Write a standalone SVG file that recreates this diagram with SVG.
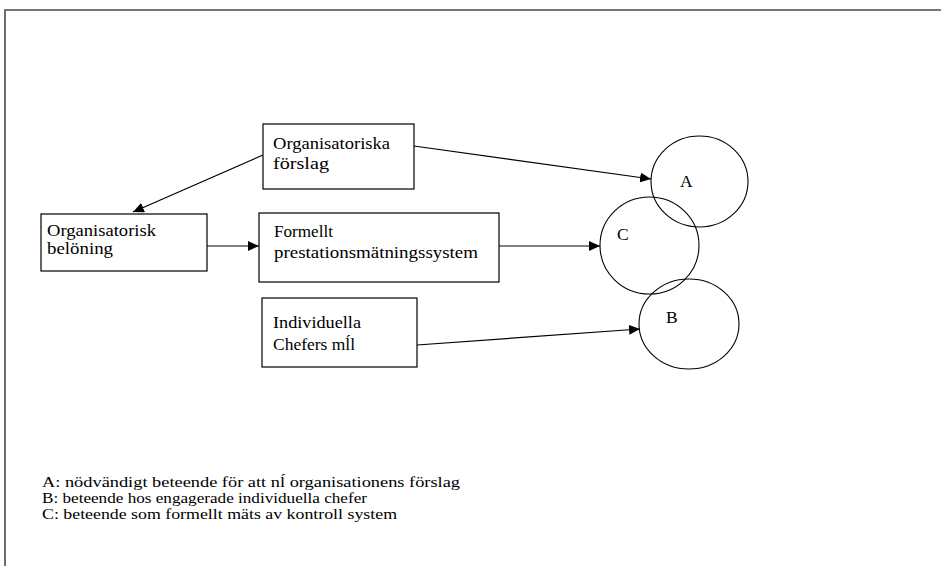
<svg xmlns="http://www.w3.org/2000/svg" width="941" height="566" viewBox="0 0 941 566">
  <defs>
    <marker id="arrow" viewBox="0 0 11 10" refX="11" refY="5" markerWidth="11" markerHeight="10" markerUnits="userSpaceOnUse" orient="auto">
      <path d="M0,0 L11,5 L0,10 z" fill="#000"/>
    </marker>
    <style>
      .box { fill: #fff; stroke: #000; stroke-width: 1.2; }
      .ring { fill: none; stroke: #000; stroke-width: 1.1; }
      .lbl { font-family: 'Liberation Serif', 'Times New Roman', serif; font-size: 17.5px; fill: #000; }
      .leg { font-size: 15px; }
      .link { stroke: #000; stroke-width: 1.2; fill: none; marker-end: url(#arrow); }
      .frame { fill: none; stroke: #4a4a4a; stroke-width: 1.6; }
    </style>
  </defs>

  <rect width="941" height="566" fill="#fff"/>
  <polyline class="frame" points="5,566 5,10 941,10"/>

  <g id="connectors">
    <line class="link" x1="263" y1="155" x2="133" y2="212"/>
    <line class="link" x1="414" y1="146" x2="651" y2="179"/>
    <line class="link" x1="207" y1="246" x2="259" y2="246"/>
    <line class="link" x1="499" y1="246" x2="600" y2="246"/>
    <line class="link" x1="417" y1="345" x2="640" y2="329"/>
  </g>

  <g id="node-forslag">
    <rect class="box" x="263" y="124" width="151" height="65"/>
    <text class="lbl" x="273" y="149" textLength="117" lengthAdjust="spacingAndGlyphs">Organisatoriska</text>
    <text class="lbl" x="273" y="169" textLength="56" lengthAdjust="spacingAndGlyphs">förslag</text>
  </g>

  <g id="node-beloning">
    <rect class="box" x="41" y="214" width="166" height="57"/>
    <text class="lbl" x="47" y="236" textLength="109" lengthAdjust="spacingAndGlyphs">Organisatorisk</text>
    <text class="lbl" x="47" y="254" textLength="66" lengthAdjust="spacingAndGlyphs">belöning</text>
  </g>

  <g id="node-system">
    <rect class="box" x="259" y="213" width="240" height="69"/>
    <text class="lbl" x="274" y="237" textLength="59" lengthAdjust="spacingAndGlyphs">Formellt</text>
    <text class="lbl" x="274" y="258" textLength="204" lengthAdjust="spacingAndGlyphs">prestationsmätningssystem</text>
  </g>

  <g id="node-chefer">
    <rect class="box" x="262" y="298" width="155" height="69"/>
    <text class="lbl" x="273" y="328" textLength="88" lengthAdjust="spacingAndGlyphs">Individuella</text>
    <text class="lbl" x="273" y="350" textLength="82" lengthAdjust="spacingAndGlyphs">Chefers mĺl</text>
  </g>

  <g id="node-A">
    <ellipse class="ring" cx="699.5" cy="181.5" rx="48.5" ry="45.5"/>
    <text class="lbl" x="680" y="187">A</text>
  </g>

  <g id="node-C">
    <ellipse class="ring" cx="649.5" cy="245.5" rx="49.5" ry="48.5"/>
    <text class="lbl" x="617" y="240">C</text>
  </g>

  <g id="node-B">
    <ellipse class="ring" cx="689" cy="324" rx="50" ry="45"/>
    <text class="lbl" x="666" y="323">B</text>
  </g>

  <g id="legend">
    <text class="lbl leg" x="42" y="487" textLength="418" lengthAdjust="spacingAndGlyphs">A: nödvändigt beteende för att nĺ organisationens förslag</text>
    <text class="lbl leg" x="42" y="503" textLength="325" lengthAdjust="spacingAndGlyphs">B: beteende hos engagerade individuella chefer</text>
    <text class="lbl leg" x="42" y="519" textLength="355" lengthAdjust="spacingAndGlyphs">C: beteende som formellt mäts av kontroll system</text>
  </g>
</svg>
